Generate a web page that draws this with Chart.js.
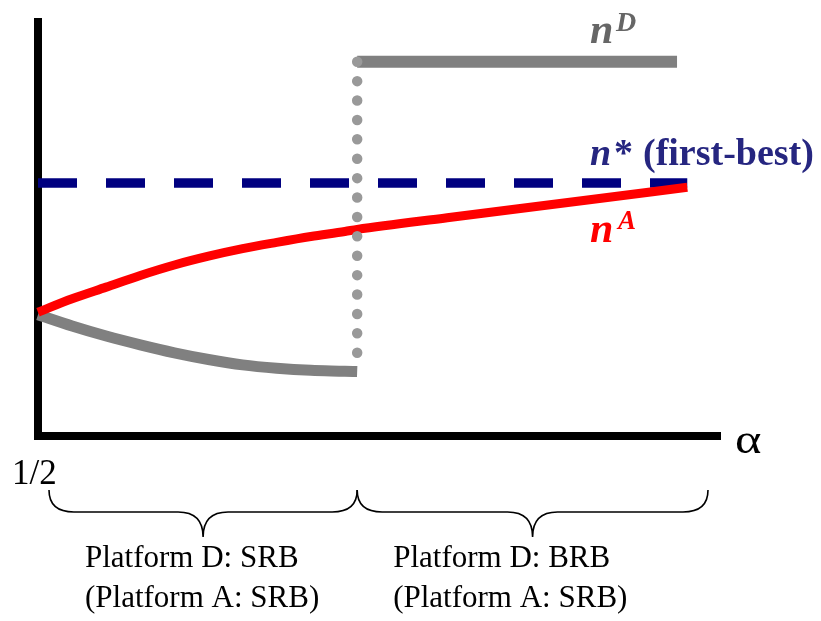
<!DOCTYPE html>
<html>
<head>
<meta charset="utf-8">
<title>Network size by alpha</title>
<script src="https://cdn.jsdelivr.net/npm/chart.js@4.4.1/dist/chart.umd.min.js"></script>
<style>
  html, body { margin: 0; padding: 0; background: #fff; }
  canvas { display: block; }
</style>
</head>
<body>
<canvas id="chart" width="821" height="621"></canvas>
<script>
// values: alpha on x, network size on y (0 = axis)
const alphaA = [0.50, 0.525, 0.55, 0.575, 0.60, 0.625, 0.65, 0.675, 0.70, 0.725, 0.734, 0.80, 0.90, 0.976];
const nA = [29.6, 32.8, 35.6, 38.4, 40.9, 43.0, 44.8, 46.3, 47.7, 48.9, 49.4, 52.2, 56.3, 59.5];

const alphaDLow = [0.50, 0.525, 0.55, 0.575, 0.60, 0.625, 0.65, 0.675, 0.70, 0.725, 0.734];
const nDLow = [29.0, 26.3, 23.9, 21.8, 19.9, 18.3, 17.0, 16.2, 15.7, 15.5, 15.4];

const alphaDHigh = [0.734, 0.9685];
const nDHigh = [89.5, 89.5];

const alphaFirstBest = [0.50, 0.976];
const nFirstBest = [60.5, 60.5];

// jump of n^D at the threshold
const alphaJump = [0.734, 0.734];
const nJump = [89.5, 19.9];

// regimes shown with braces under the axis
const regimeBounds = [0.5, 0.734, 1.0];
const regimeTop = ['Platform D: SRB', 'Platform D: BRB'];
const regimeBottom = ['(Platform A: SRB)', '(Platform A: SRB)'];

const SERIF = '"Liberation Serif", "Times New Roman", serif';

function toPoints(xs, ys) {
    return xs.map((x, i) => ({x: x, y: ys[i]}));
}

function drawBrace(ctx, x0, x1, top, mid, tip, r) {
    const xm = (x0 + x1) / 2;
    ctx.beginPath();
    ctx.moveTo(x0, top);
    ctx.quadraticCurveTo(x0, mid, x0 + r, mid);
    ctx.lineTo(xm - r, mid);
    ctx.quadraticCurveTo(xm, mid, xm, tip);
    ctx.moveTo(xm, tip);
    ctx.quadraticCurveTo(xm, mid, xm + r, mid);
    ctx.lineTo(x1 - r, mid);
    ctx.quadraticCurveTo(x1, mid, x1, top);
    ctx.stroke();
}

// labels, braces and regime captions
const annotations = {
    id: 'annotations',
    afterDraw(chart) {
        const ctx = chart.ctx;
        const xs = chart.scales.x;
        ctx.save();
        ctx.textBaseline = 'alphabetic';
        ctx.textAlign = 'left';

        // axis labels
        ctx.fillStyle = '#000';
        ctx.font = '35px ' + SERIF;
        ctx.fillText('1/2', 12, 484);
        ctx.save();
        ctx.translate(735, 453);
        ctx.scale(1.2, 1);
        ctx.font = '42px ' + SERIF;
        ctx.fillText('α', 0, 0);
        ctx.restore();

        // n^D
        ctx.fillStyle = '#666666';
        ctx.font = 'italic bold 42px ' + SERIF;
        ctx.fillText('n', 590, 43);
        ctx.font = 'italic bold 28px ' + SERIF;
        ctx.fillText('D', 616, 31);

        // n* (first-best)
        ctx.fillStyle = '#262680';
        ctx.font = 'italic bold 38px ' + SERIF;
        ctx.fillText('n', 590, 165);
        ctx.font = 'bold 38px ' + SERIF;
        ctx.fillText('*', 614, 165);
        ctx.fillText('(first-best)', 643, 165);

        // n^A
        ctx.fillStyle = '#ff0000';
        ctx.font = 'italic bold 42px ' + SERIF;
        ctx.fillText('n', 590, 242);
        ctx.font = 'italic bold 27px ' + SERIF;
        ctx.fillText('A', 618, 229);

        // braces and captions
        ctx.strokeStyle = '#000';
        ctx.lineWidth = 1.6;
        ctx.fillStyle = '#000';
        ctx.font = '31px ' + SERIF;
        for (let i = 0; i < regimeTop.length; i++) {
            let x0 = xs.getPixelForValue(regimeBounds[i]);
            let x1 = xs.getPixelForValue(regimeBounds[i + 1]);
            if (i === 0) x0 += 11;
            if (i === regimeTop.length - 1) x1 -= 12;
            drawBrace(ctx, x0, x1, 490, 512, 537, 25);
            const tx = (i === 0 ? x0 : xs.getPixelForValue(regimeBounds[i])) + 36;
            ctx.fillText(regimeTop[i], tx, 567);
            ctx.fillText(regimeBottom[i], tx, 607);
        }
        ctx.restore();
    }
};

const hiddenAxis = {
    type: 'linear',
    ticks: {display: false},
    grid: {display: false, drawTicks: false},
    border: {display: true, color: '#000', width: 8}
};

new Chart(document.getElementById('chart').getContext('2d'), {
    type: 'line',
    data: {
        datasets: [
            {
                label: 'jump',
                data: toPoints(alphaJump, nJump),
                borderColor: '#999999',
                borderWidth: 10.5,
                borderDash: [0, 19.4],
                borderCapStyle: 'round',
                pointRadius: 0,
                clip: false
            },
            {
                label: 'nA',
                data: toPoints(alphaA, nA),
                borderColor: '#ff0000',
                borderWidth: 9,
                cubicInterpolationMode: 'monotone',
                pointRadius: 0,
                clip: false
            },
            {
                label: 'nD low',
                data: toPoints(alphaDLow, nDLow),
                borderColor: '#808080',
                borderWidth: 11,
                cubicInterpolationMode: 'monotone',
                pointRadius: 0,
                clip: false
            },
            {
                label: 'n* first-best',
                data: toPoints(alphaFirstBest, nFirstBest),
                borderColor: '#000080',
                borderWidth: 9.5,
                borderDash: [39, 29],
                pointRadius: 0,
                clip: false
            },
            {
                label: 'nD high',
                data: toPoints(alphaDHigh, nDHigh),
                borderColor: '#808080',
                borderWidth: 12,
                pointRadius: 0,
                clip: false
            }
        ]
    },
    options: {
        responsive: false,
        animation: false,
        layout: {padding: {left: 38, top: 22, right: 101, bottom: 185}},
        plugins: {legend: {display: false}, tooltip: {enabled: false}},
        scales: {
            x: Object.assign({}, hiddenAxis, {min: 0.5, max: 1.0}),
            y: Object.assign({}, hiddenAxis, {min: 0, max: 99})
        }
    },
    plugins: [annotations]
});
</script>
</body>
</html>
